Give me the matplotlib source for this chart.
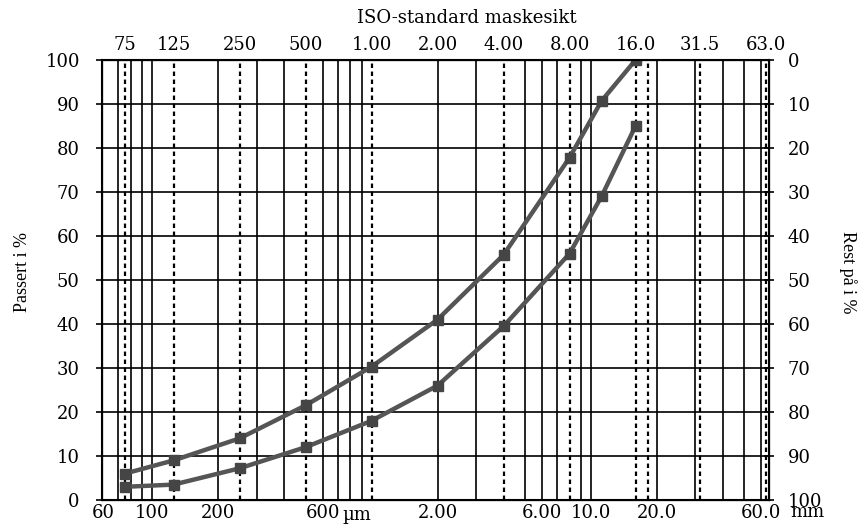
import matplotlib
matplotlib.use('Agg')
import matplotlib.pyplot as plt
from matplotlib.ticker import FixedLocator, NullLocator, FixedFormatter

# sieve sizes (mm) and % passing for the two curves
sieve_mm = [0.075, 0.125, 0.25, 0.5, 1.0, 2.0, 4.0, 8.0, 11.2, 16.0]
passing_upper = [6, 9, 14, 21.5, 30.3, 41, 55.7, 77.8, 90.7, 100]
passing_lower = [3, 3.5, 7.2, 12, 18, 26, 39.5, 56, 69, 85]

# ISO sieve lines (dotted) and top labels
iso_mm = [0.075, 0.125, 0.25, 0.5, 1.0, 4.0, 8.0, 16.0, 18.3, 31.5, 63.0]
top_ticks = [0.075, 0.125, 0.25, 0.5, 1.0, 2.0, 4.0, 8.0, 16.0, 31.5, 63.0]
top_labels = ["75", "125", "250", "500", "1.00", "2.00", "4.00", "8.00", "16.0", "31.5", "63.0"]

# log grid lines (solid) and bottom labels
grid_mm = [0.07, 0.08, 0.09, 0.1, 0.2, 0.3, 0.4, 0.6, 0.7, 0.8, 0.9,
           2, 3, 5, 6, 7, 9, 10, 20, 30, 40, 50, 60]
bottom_ticks = [0.06, 0.1, 0.2, 0.6, 2.0, 6.0, 10.0, 20.0, 60.0]
bottom_labels = ["60", "100", "200", "600", "2.00", "6.00", "10.0", "20.0", "60.0"]

pct_ticks = list(range(0, 101, 10))

num_font = {'family': 'DejaVu Serif', 'size': 13}
lab_font = {'family': 'Liberation Serif', 'size': 13}

fig = plt.figure(figsize=(8.65, 5.24), dpi=100)
ax = fig.add_axes([0.118, 0.0458, 0.771, 0.8397])
ax.set_xscale('log')
ax.set_xlim(0.059, 65)
ax.set_ylim(0, 100)

for y in pct_ticks:
    ax.axhline(y, color='black', lw=1.2, zorder=1)
for x in grid_mm:
    ax.axvline(x, color='black', lw=1.2, zorder=1)
for x in iso_mm:
    ax.axvline(x, color='black', lw=1.6, ls=(0, (2, 1.6)), zorder=1)

curve_kw = dict(color='#555555', lw=3.2, marker='s', markersize=6.5,
                markerfacecolor='#454545', markeredgecolor='#454545', zorder=3)
ax.plot(sieve_mm, passing_upper, **curve_kw)
ax.plot(sieve_mm, passing_lower, **curve_kw)

for s in ax.spines.values():
    s.set_linewidth(1.5)

ax.xaxis.set_major_locator(FixedLocator(bottom_ticks))
ax.xaxis.set_major_formatter(FixedFormatter(bottom_labels))
ax.xaxis.set_minor_locator(NullLocator())
ax.tick_params(axis='x', length=0, pad=3)
ax.yaxis.set_major_locator(FixedLocator(pct_ticks))
ax.tick_params(axis='y', direction='out', length=4, width=1.2, pad=12)
for t in ax.get_xticklabels() + ax.get_yticklabels():
    t.set_fontfamily(num_font['family'])
    t.set_fontsize(num_font['size'])

# units after bottom labels
ax.annotate("\u00b5m", xy=(0.6, 0), xycoords=('data', 'axes fraction'),
            xytext=(14, -4), textcoords='offset points', ha='left', va='top', **num_font)
ax.annotate("mm", xy=(60, 0), xycoords=('data', 'axes fraction'),
            xytext=(21, -12.5), textcoords='offset points', ha='left', va='baseline', **num_font)

# top ISO axis
ax_top = ax.twiny()
ax_top.set_xscale('log')
ax_top.set_xlim(ax.get_xlim())
ax_top.xaxis.set_major_locator(FixedLocator(top_ticks))
ax_top.xaxis.set_major_formatter(FixedFormatter(top_labels))
ax_top.xaxis.set_minor_locator(NullLocator())
ax_top.tick_params(axis='x', length=0, pad=4)
for t in ax_top.get_xticklabels():
    t.set_fontfamily(num_font['family'])
    t.set_fontsize(num_font['size'])

# right axis: rest on sieve
ax_r = ax.twinx()
ax_r.set_ylim(100, 0)
ax_r.yaxis.set_major_locator(FixedLocator(pct_ticks))
ax_r.tick_params(axis='y', direction='inout', length=7, width=1.2, pad=10)
for t in ax_r.get_yticklabels():
    t.set_fontfamily(num_font['family'])
    t.set_fontsize(num_font['size'])

fig.text(0.54, 0.966, "ISO-standard maskesikt", ha='center', va='center',
         family='DejaVu Serif', size=13)
fig.text(0.026, 0.48, "Passert i %", rotation=90, ha='center', va='center', **lab_font)
fig.text(0.98, 0.48, "Rest p\u00e5 i %", rotation=-90, ha='center', va='center', **lab_font)

fig.savefig('out.png', dpi=100)
